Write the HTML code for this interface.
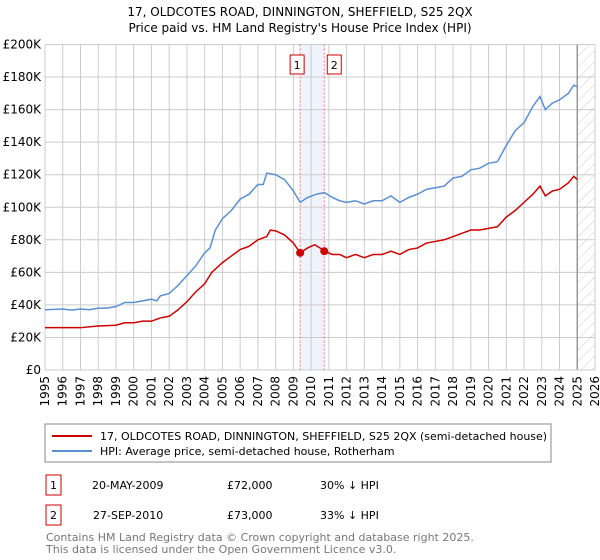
<!DOCTYPE html>
<html><head><meta charset="utf-8"><style>
body{margin:0;background:#fff;font-family:"DejaVu Sans","Liberation Sans",sans-serif;}
svg{display:block}
</style></head><body>
<svg width="600" height="560" xmlns="http://www.w3.org/2000/svg" font-family="DejaVu Sans, Liberation Sans, sans-serif">
<defs><pattern id="hatch" width="8" height="8" patternUnits="userSpaceOnUse" patternTransform="rotate(45)"><line x1="0" y1="0" x2="0" y2="8" stroke="#ccc" stroke-width="1"/></pattern></defs>
<text x="300" y="16" text-anchor="middle" font-size="12" fill="#000">17, OLDCOTES ROAD, DINNINGTON, SHEFFIELD, S25 2QX</text>
<text x="300" y="32" text-anchor="middle" font-size="12" fill="#000">Price paid vs. HM Land Registry's House Price Index (HPI)</text>
<g id="grid"></g>
<g id="marks"></g>
<g id="axes"></g>
<rect x="45" y="424" width="506" height="38" fill="none" stroke="#888"/>
<line x1="52" y1="436" x2="92" y2="436" stroke="#cc0000" stroke-width="2"/>
<text x="100" y="440" font-size="11">17, OLDCOTES ROAD, DINNINGTON, SHEFFIELD, S25 2QX (semi-detached house)</text>
<line x1="52" y1="451" x2="92" y2="451" stroke="#5b8fd0" stroke-width="2"/>
<text x="100" y="455" font-size="11">HPI: Average price, semi-detached house, Rotherham</text>
<rect x="46" y="475" width="15" height="20" fill="none" stroke="#cc0000"/>
<text x="53.5" y="489" text-anchor="middle" font-size="11">1</text>
<text x="92" y="489" font-size="11">20-MAY-2009</text>
<text x="227" y="489" font-size="11">£72,000</text>
<text x="320" y="489" font-size="11">30% ↓ HPI</text>
<rect x="46" y="505" width="15" height="20" fill="none" stroke="#cc0000"/>
<text x="53.5" y="519" text-anchor="middle" font-size="11">2</text>
<text x="93" y="519" font-size="11">27-SEP-2010</text>
<text x="227" y="519" font-size="11">£73,000</text>
<text x="320" y="519" font-size="11">33% ↓ HPI</text>
<text x="46" y="541" font-size="11" fill="#777">Contains HM Land Registry data © Crown copyright and database right 2025.</text>
<text x="46" y="553" font-size="11" fill="#777">This data is licensed under the Open Government Licence v3.0.</text>
</svg>
<script>
const hpiYears=[1995,1996,1996.5,1997,1997.5,1998,1998.5,1999,1999.5,2000,2000.5,2001,2001.3,2001.5,2002,2002.5,2003,2003.5,2004,2004.3,2004.6,2005,2005.5,2006,2006.5,2007,2007.3,2007.5,2008,2008.5,2009,2009.38,2009.8,2010.3,2010.74,2011.2,2011.6,2012,2012.5,2013,2013.5,2014,2014.5,2015,2015.5,2016,2016.5,2017,2017.5,2018,2018.5,2019,2019.5,2020,2020.5,2021,2021.5,2022,2022.5,2022.9,2023.2,2023.6,2024,2024.5,2024.8,2025];
const hpiValues=[37,37.5,36.8,37.5,37,38,38,39,41.5,41.5,42.5,43.5,42.5,45.5,47,52,58,64,72,75,86,93,98,105,108,114,114,121,120,117,110,103,106,108,109,106,104,103,104,102,104,104,107,103,106,108,111,112,113,118,119,123,124,127,128,138,147,152,162,168,160,164,166,170,175,174];
const ppYears=[1995,1996,1997,1998,1999,1999.5,2000,2000.5,2001,2001.5,2002,2002.5,2003,2003.5,2004,2004.4,2005,2005.5,2006,2006.5,2007,2007.5,2007.7,2008,2008.5,2009,2009.38,2009.8,2010.2,2010.5,2010.74,2011.2,2011.6,2012,2012.5,2013,2013.5,2014,2014.5,2015,2015.5,2016,2016.5,2017,2017.5,2018,2018.5,2019,2019.5,2020,2020.5,2021,2021.5,2022,2022.5,2022.9,2023.2,2023.6,2024,2024.5,2024.8,2025];
const ppValues=[26,26,26,27,27.5,29,29,30,30,32,33,37,42,48,53,60,66,70,74,76,80,82,86,85.5,83,78,72,75,77,75,73,71,71,69,71,69,71,71,73,71,74,75,78,79,80,82,84,86,86,87,88,94,98,103,108,113,107,110,111,115,119,117];
const saleYears=[2009.38,2010.74];
const saleValues=[72,73];
const saleLabels=["1","2"];
const yTicks=[0,20,40,60,80,100,120,140,160,180,200];
const xTicks=[1995,1996,1997,1998,1999,2000,2001,2002,2003,2004,2005,2006,2007,2008,2009,2010,2011,2012,2013,2014,2015,2016,2017,2018,2019,2020,2021,2022,2023,2024,2025,2026];
const dataEnd=2025;

const NS="http://www.w3.org/2000/svg";
const L=45,R=595,T=44.5,B=370;
const x=v=>L+(v-1995)/(2026-1995)*(R-L);
const y=v=>B-v/200*(B-T);
function mk(tag,attrs,parent){const e=document.createElementNS(NS,tag);for(const k in attrs)e.setAttribute(k,attrs[k]);document.getElementById(parent).appendChild(e);return e;}
let e;
e=mk('rect',{x:L,y:T,width:R-L,height:B-T,fill:'#fff'},'grid');


e=mk('rect',{x:x(saleYears[0]),y:T,width:x(saleYears[1])-x(saleYears[0]),height:B-T,fill:'#eef3fc'},'grid');


yTicks.forEach(v=>{
 e=mk('line',{x1:L,x2:R,y1:y(v),y2:y(v),stroke:'#ccc'},'grid');
 
 
 e=mk('text',{x:L-4,y:y(v)+4,'text-anchor':'end','font-size':'12'},'axes');
 e.textContent=v===0?'£0':'£'+v+'K';
 
 
});
xTicks.forEach(v=>{
 e=mk('line',{x1:x(v),x2:x(v),y1:T,y2:B,stroke:'#ccc'},'grid');
 
 
 e=mk('text',{x:0,y:0,'text-anchor':'end','font-size':'12',transform:`translate(${x(v)+4},${B+6}) rotate(-90)`},'axes');
 e.textContent=v;
 
 
});
e=mk('rect',{x:x(dataEnd),y:T,width:R-x(dataEnd),height:B-T,fill:'url(#hatch)'},'grid');


e=mk('line',{x1:x(dataEnd),x2:x(dataEnd),y1:T,y2:B,stroke:'#999','stroke-width':1.5},'grid');


e=mk('rect',{x:L,y:T,width:R-L,height:B-T,fill:'none',stroke:'#ccc'},'grid');


saleYears.forEach((v,i)=>{
 e=mk('line',{x1:x(v),x2:x(v),y1:T,y2:B,stroke:'#e77','stroke-dasharray':'2,2'},'marks');
 
 
});
e=mk('polyline',{points:hpiYears.map((v,i)=>x(v)+','+y(hpiValues[i])).join(' '),fill:'none',stroke:'#5b8fd0','stroke-width':1.5},'marks');


e=mk('polyline',{points:ppYears.map((v,i)=>x(v)+','+y(ppValues[i])).join(' '),fill:'none',stroke:'#cc0000','stroke-width':1.5},'marks');


saleYears.forEach((v,i)=>{
 e=mk('circle',{cx:x(v),cy:y(saleValues[i]),r:4,fill:'#cc0000'},'marks');
 
 
 e=mk('rect',{x:x(v)-(i===0?10:-3),y:55,width:14,height:19,fill:'#fff',stroke:'#cc0000'},'marks');
 
 
 e=mk('text',{x:x(v)-(i===0?3:-10),y:69,'text-anchor':'middle','font-size':'11'},'marks');
 e.textContent=saleLabels[i];
 
 
});
</script>
</body></html>
